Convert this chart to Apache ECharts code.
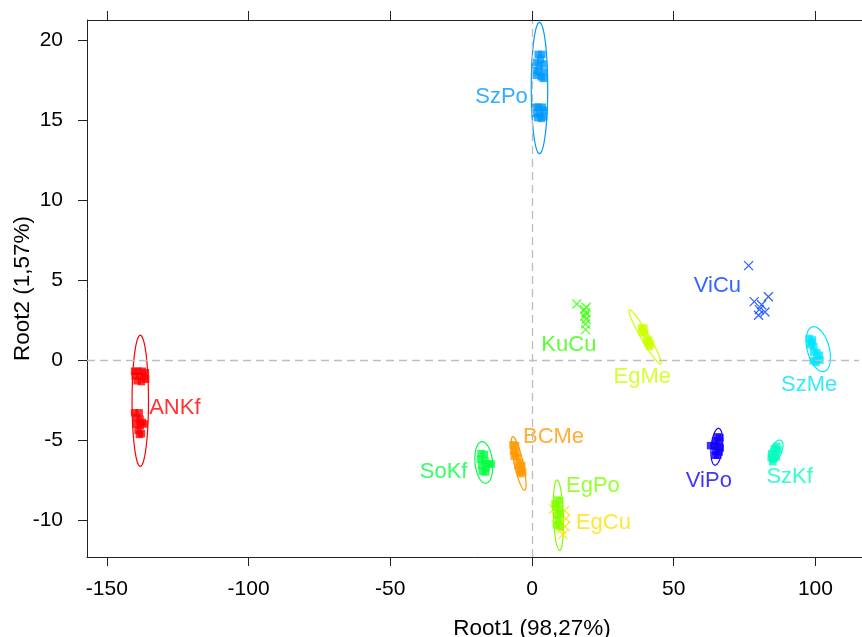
<!DOCTYPE html>
<html>
<head>
<meta charset="utf-8">
<script src="https://cdn.jsdelivr.net/npm/echarts@6/dist/echarts.min.js"></script>
<style>
  html, body { margin: 0; padding: 0; background: #fff; overflow: hidden; }
  #chart { width: 862px; height: 637px; }
</style>
</head>
<body>
<div id="chart"></div>
<script>
// Discriminant scores (Root1, Root2) per group
const groupNames = ['ANKf', 'BCMe', 'EgCu', 'EgMe', 'EgPo', 'KuCu', 'SoKf', 'SzKf', 'SzMe', 'SzPo', 'ViCu', 'ViPo'];

const ptsANKf = [[-140.2,-0.7],[-139.0,-0.7],[-137.5,-0.7],[-136.4,-0.8],[-140.0,-1.0],[-138.5,-1.0],[-137.0,-1.1],[-136.3,-1.2],[-139.3,-1.3],[-137.8,-1.35],
                 [-140.2,-3.3],[-138.6,-3.3],[-139.5,-3.6],[-138.3,-3.7],[-139.8,-4.0],[-138.2,-4.1],[-136.8,-4.0],[-137.5,-3.9],[-139.0,-4.4],[-137.8,-4.6],[-138.5,-4.65]];
const ptsBCMe = [[-6.7,-5.3],[-5.8,-5.35],[-6.5,-5.7],[-5.6,-5.8],[-6.3,-6.0],[-5.2,-6.1],[-4.4,-6.4],[-5.0,-6.6],[-3.6,-6.6],[-4.3,-6.9],[-3.3,-7.0],[-4.0,-7.1]];
const ptsEgCu = [[7.6,-9.3],[11.5,-9.4],[8.5,-9.8],[12.0,-9.9],[9.7,-10.2],[11.7,-10.4],[10.3,-10.6],[10.9,-10.9]];
const ptsEgMe = [[38.6,2.0],[39.5,2.0],[38.9,1.75],[39.7,1.7],[40.4,1.25],[41.2,1.25],[40.8,1.05],[41.8,1.0],[41.4,0.85]];
const ptsEgPo = [[8.9,-8.75],[9.8,-8.8],[8.1,-9.0],[8.4,-9.2],[9.6,-9.3],[10.0,-9.6],[8.8,-9.7],[9.4,-10.0],[8.6,-10.3],[9.7,-10.4]];
const ptsKuCu = [[15.8,3.5],[19.1,3.3],[18.5,3.15],[19.0,2.95],[18.6,2.75],[19.1,2.55],[18.9,2.25],[18.9,1.9]];
const ptsSoKf = [[-18.0,-5.85],[-16.8,-5.9],[-18.2,-6.2],[-16.6,-6.3],[-15.3,-6.5],[-14.4,-6.5],[-17.8,-6.6],[-16.2,-6.75],[-17.5,-6.95],[-16.4,-7.0]];
const ptsSzKf = [[86.3,-5.4],[85.5,-5.55],[86.8,-5.6],[84.6,-5.85],[85.7,-5.85],[84.4,-6.1],[85.4,-6.15],[86.2,-6.05],[84.9,-6.35]];
const ptsSzMe = [[97.8,1.35],[98.9,1.25],[98.6,1.1],[98.2,0.95],[99.4,0.85],[99.4,0.5],[100.5,0.45],[101.4,0.3],[100.6,0.05],[101.6,0.0],[99.2,-0.05],[100.2,-0.15]];
const ptsSzPo = [[2.2,19.1],[3.5,19.1],[3.0,18.8],[1.2,18.6],[2.5,18.4],[3.9,18.5],[1.1,18.1],[2.4,18.0],[4.2,18.0],[1.5,17.8],[3.2,17.7],[4.0,17.6],
                 [1.1,15.8],[2.3,15.8],[3.6,15.8],[4.2,15.6],[1.3,15.4],[2.8,15.4],[4.1,15.2],[2.0,15.15],[3.3,15.1]];
const ptsViCu = [[76.4,5.9],[78.4,3.65],[83.4,3.95],[81.0,3.45],[80.2,3.15],[82.2,3.0],[79.9,2.8]];
const ptsViPo = [[65.4,-4.8],[66.3,-4.85],[64.8,-5.05],[65.9,-5.1],[63.0,-5.35],[64.3,-5.35],[65.6,-5.4],[66.4,-5.5],[64.8,-5.7],[66.0,-5.75],[64.6,-5.95],[65.5,-5.95]];

const groupPoints = [ptsANKf, ptsBCMe, ptsEgCu, ptsEgMe, ptsEgPo, ptsKuCu, ptsSoKf, ptsSzKf, ptsSzMe, ptsSzPo, ptsViCu, ptsViPo];

// Confidence ellipses: [centerX, centerY, axis1X, axis1Y, axis2X, axis2Y] in score units
const ellANKf = [-138.2, -2.55, 0, 4.1, 2.9, 0];
const ellBCMe = [-4.7, -6.46, -2.11, 1.67, 1.55, 0.06];
const ellEgMe = [39.9, 1.44, 5.58, -1.69, 1.22, 0.13];
const ellEgPo = [9.3, -9.7, -0.45, 2.2, 1.75, 0];
const ellSoKf = [-17.0, -6.4, -0.6, 1.3, 3.1, 0];
const ellSzKf = [86.1, -5.7, 1.3, 0.7, 2.1, 0];
const ellSzMe = [101.0, 0.68, 2.11, -1.39, 3.74, 0.18];
const ellSzPo = [2.64, 17.0, 0, 4.1, 2.9, 0];
const ellViPo = [65.2, -5.42, 0.6, 1.15, 2.0, 0];
const groupEllipses = [ellANKf, ellBCMe, null, ellEgMe, ellEgPo, null, ellSoKf, ellSzKf, ellSzMe, ellSzPo, null, ellViPo];

// Group label anchor positions (text centre, score units)
const labelX = [-126.0, 7.6, 25.2, 38.9, 21.5, 13.0, -31.2, 90.9, 97.8, -10.75, 65.4, 62.4];
const labelY = [-3.0, -4.8, -10.2, -1.06, -7.9, 0.94, -7.0, -7.3, -1.56, 16.44, 4.6, -7.56];

// Axis ticks and limits
const xTicks = [-150, -100, -50, 0, 50, 100, 150];
const yTicks = [-10, -5, 0, 5, 10, 15, 20];
const xLimits = [-157, 157];
const yLimits = [-12.31, 21.25];

// Styling
const groupColors = ['#FF0000', '#FF9900', '#FFE000', '#CCFF00', '#80FF00', '#33FF00',
                     '#00FF40', '#00FFBF', '#00E5FF', '#0099FF', '#0040FF', '#1000FF'];
const crossGroups = ['EgCu', 'KuCu', 'ViCu'];
const FONT = '"Liberation Sans", Arial, Helvetica, sans-serif';
const crossPath = 'path://M0,0L10,10M10,0L0,10';
const AXIS_COLOR = '#222';

const chart = echarts.init(document.getElementById('chart'), null, { renderer: 'canvas' });

const series = [];

// ellipses
groupNames.forEach((name, i) => {
  const e = groupEllipses[i];
  if (!e) return;
  series.push({
    type: 'custom',
    name: name + ' ellipse',
    silent: true,
    z: 2,
    data: [e],
    encode: { x: 0, y: 1 },
    renderItem: function (params, api) {
      const cx = api.value(0), cy = api.value(1);
      const ax = api.value(2), ay = api.value(3);
      const bx = api.value(4), by = api.value(5);
      const pts = [];
      const n = 90;
      for (let k = 0; k < n; k++) {
        const t = 2 * Math.PI * k / n;
        pts.push(api.coord([cx + ax * Math.cos(t) + bx * Math.sin(t),
                            cy + ay * Math.cos(t) + by * Math.sin(t)]));
      }
      return {
        type: 'polygon',
        shape: { points: pts },
        style: { fill: 'none', stroke: groupColors[i], lineWidth: 1.2 }
      };
    }
  });
});

// points
groupNames.forEach((name, i) => {
  const isCross = crossGroups.indexOf(name) >= 0;
  series.push({
    type: 'scatter',
    name: name,
    z: 3,
    data: groupPoints[i],
    symbol: isCross ? crossPath : 'rect',
    symbolSize: isCross ? 9 : 7.5,
    itemStyle: isCross
      ? { color: groupColors[i], borderColor: groupColors[i], borderWidth: 1.3 }
      : { color: groupColors[i] },
    silent: true
  });
});

// group labels
series.push({
  type: 'scatter',
  name: 'labels',
  z: 4,
  symbolSize: 0,
  silent: true,
  data: groupNames.map((name, i) => ({
    value: [labelX[i], labelY[i]],
    name: name,
    label: { color: groupColors[i] }
  })),
  label: {
    show: true,
    position: 'inside',
    formatter: p => p.name,
    fontFamily: FONT,
    fontSize: 22
  }
});

// reference lines at zero, plus the top edge of the plot frame
series.push({
  type: 'line',
  name: 'zero',
  data: [],
  silent: true,
  z: 1,
  markLine: {
    silent: true,
    symbol: ['none', 'none'],
    label: { show: false },
    lineStyle: { color: '#BEBEBE', type: [8, 5], width: 1.3 },
    data: [
      { xAxis: 0 },
      { yAxis: 0 },
      { yAxis: yLimits[1], lineStyle: { color: AXIS_COLOR, type: 'solid', width: 1 } }
    ]
  }
});

chart.setOption({
  animation: false,
  backgroundColor: '#ffffff',
  grid: { left: 87, top: 20, bottom: 80, right: -115, containLabel: false, outerBoundsMode: 'none' },
  // the plot frame continues past the right edge of the page: keep that edge open
  graphic: [{
    type: 'rect',
    right: 0,
    top: 22,
    z: 100,
    silent: true,
    shape: { width: 3, height: 533 },
    style: { fill: '#ffffff' }
  }],
  xAxis: [{
    type: 'value',
    position: 'bottom',
    min: xLimits[0], max: xLimits[1],
    name: 'Root1 (98,27%)',
    nameLocation: 'middle',
    nameGap: 60,
    nameMoveOverlap: false,
    nameTextStyle: { fontFamily: FONT, fontSize: 22.5, color: '#000' },
    axisLine: { show: true, onZero: false, lineStyle: { color: AXIS_COLOR, width: 1 } },
    axisTick: { show: true, inside: false, length: 9, customValues: xTicks, lineStyle: { color: AXIS_COLOR, width: 1 } },
    axisLabel: { show: true, customValues: xTicks, margin: 22, fontFamily: FONT, fontSize: 21, color: '#000' },
    splitLine: { show: false }
  }, {
    type: 'value',
    position: 'top',
    min: xLimits[0], max: xLimits[1],
    axisLine: { show: false, onZero: false },
    axisTick: { show: true, inside: false, length: 9, customValues: xTicks, lineStyle: { color: AXIS_COLOR, width: 1 } },
    axisLabel: { show: false },
    splitLine: { show: false }
  }],
  yAxis: [{
    type: 'value',
    position: 'left',
    min: yLimits[0], max: yLimits[1],
    name: 'Root2 (1,57%)',
    nameLocation: 'middle',
    nameGap: 53,
    nameMoveOverlap: false,
    nameRotate: 90,
    nameTextStyle: { fontFamily: FONT, fontSize: 22.5, color: '#000' },
    axisLine: { show: true, onZero: false, lineStyle: { color: AXIS_COLOR, width: 1 } },
    axisTick: { show: true, inside: false, length: 9, customValues: yTicks, lineStyle: { color: AXIS_COLOR, width: 1 } },
    axisLabel: { show: true, customValues: yTicks, margin: 24, fontFamily: FONT, fontSize: 21, color: '#000' },
    splitLine: { show: false }
  }],
  series: series
});
</script>
</body>
</html>
